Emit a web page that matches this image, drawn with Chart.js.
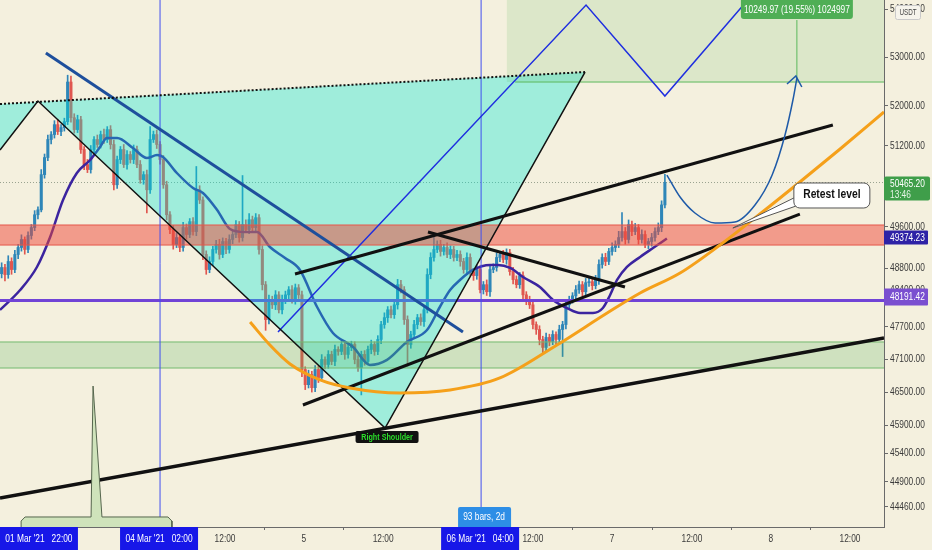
<!DOCTYPE html>
<html>
<head>
<meta charset="utf-8">
<script src="https://cdn.jsdelivr.net/npm/chart.js@4.4.1/dist/chart.umd.min.js"></script>
<style>
  html, body { margin: 0; padding: 0; background: #f4f0de; }
  #wrap { width: 932px; height: 550px; }
</style>
</head>
<body>
<div id="wrap"><canvas id="chart" width="932" height="550"></canvas></div>
<script>
const FONT = "'Liberation Sans', Arial, sans-serif";
const BG = '#f4f0de';
const UP = '#2e86b8', DOWN = '#e0564f';

// 30m candles: first open, closes, wick lengths (price units)
const firstOpen = 48700;
const closes = [
  48818,48683,48933,48779,49067,49201,49355,49163,49432,49585,
  49834,49930,50621,50960,51320,51419,51619,51479,51559,51679,
  52485,51759,51519,51719,51120,50821,50721,51120,51320,51220,
  51419,51320,51519,51220,50421,50920,51120,50821,51020,50920,
  51120,50821,50521,50621,50322,51320,51419,51220,50920,50421,
  49834,49547,49259,49393,49201,49585,49451,49700,49508,50322,
  50122,49067,48779,48933,49163,49259,49067,49316,49163,49355,
  49451,49643,49393,49643,49547,49738,49585,49777,49163,48492,
  47835,48204,48112,48300,48019,48204,48300,48396,48204,48434,
  48300,46912,46635,46820,46580,46912,46764,47096,47004,47189,
  47060,47281,47244,47373,47189,47318,47373,47096,46949,47189,
  47060,47281,47373,47244,47466,47743,47872,48019,47927,48112,
  48492,48396,47835,47373,47558,47743,47872,47798,48019,48684,
  49010,49163,49259,49125,49201,49067,49163,49010,49067,48933,
  48779,49010,48741,48664,48779,48396,48492,48358,48779,48818,
  49010,49067,48971,49105,48741,48588,48492,48664,48300,48204,
  48112,47743,47650,47466,47318,47503,47429,47558,47466,47650,
  47743,48112,48204,48281,48396,48492,48358,48530,48549,48473,
  48588,48876,49010,48933,49125,49201,49259,49393,49508,49355,
  49643,49508,49585,49355,49451,49259,49316,49393,49508,49585,
  50026,50465.2
];
const wickUp = [
  90,60,110,70,80,60,90,50,70,60, 80,60,100,70,90,60,80,110,60,70,
  140,120,80,90,70,60,100,80,60,90, 70,110,60,80,90,70,60,100,80,60,
  90,70,80,60,90,260,70,90,60,80, 70,60,80,90,60,100,70,60,80,460,
  80,60,70,90,60,80,100,70,60,90, 70,80,60,960,90,120,70,80,60,70,
  60,90,70,80,60,90,70,60,80,70, 60,70,50,80,60,70,60,90,50,70,
  60,80,50,70,60,80,60,50,70,60, 70,60,80,50,70,60,90,60,70,80,
  100,80,60,70,60,80,60,70,80,110, 90,250,70,80,60,90,70,60,80,70,
  60,90,70,60,80,70,60,90,80,70, 90,60,80,70,60,80,70,60,70,60,
  70,60,50,70,60,80,60,70,50,80, 60,90,70,60,80,70,60,80,70,60,
  80,90,70,80,60,90,70,120,370,80, 90,70,80,60,90,70,60,80,70,90,
  80,160
];
const wickDn = [
  80,120,70,90,60,80,70,90,60,70, 60,80,40,70,60,90,70,60,80,70,
  60,90,70,60,80,100,60,70,80,60, 70,80,60,90,100,70,80,60,90,70,
  80,60,70,90,450,70,60,80,90,70, 100,80,90,60,80,70,90,60,70,80,
  70,100,90,60,80,70,90,60,80,70, 80,60,90,70,60,80,70,60,90,100,
  200,80,70,90,60,80,70,90,60,80, 70,130,90,60,80,70,90,60,80,70,
  60,80,70,60,90,70,60,80,70,500, 70,60,80,70,60,80,70,90,60,70,
  80,60,90,400,70,60,80,70,90,60, 80,70,60,90,70,60,80,70,60,90,
  70,60,80,90,70,60,80,70,90,60, 70,80,60,90,70,80,60,70,80,90,
  70,80,90,100,100,70,80,60,90,70, 500,80,70,60,90,70,80,60,70,80,
  60,90,70,80,60,70,80,60,70,90, 70,80,60,90,70,60,80,90,70,60,
  80,60
];

// moving average read at bar positions [bar, price]
const maLine = [[-0.5,48015],[5.6,48391],[10.7,48828],[14.7,49404],[18.6,50122],[22.8,50653],[26.8,50911],[29.8,51170],[31.9,51350],[35.0,51350],[39.8,51150],[44.0,50950],[47.1,51009],[48.9,50970],[53.1,50653],[58.0,50357],[61.0,50260],[65.3,49927],[69.2,49558],[73.7,49500],[77.4,49500],[81.3,49210],[85.9,49000],[90.4,48771],[95.6,48071],[100.4,47586],[106.5,47326],[111.6,46995],[116.8,47088],[122.8,47419],[128.9,47641],[132.8,48071],[135.9,48391],[138.9,48581],[142.8,48771],[148.0,48866],[150.4,48866],[154.1,48809],[158.0,48637],[163.1,48448],[167.1,48204],[171.3,48052],[175.3,47958],[179.2,47958],[182.2,48052],[184.4,48297],[186.5,48581],[189.5,48828],[193.5,49019],[197.4,49191],[201.6,49374.23]];

// drawings [bar, price]
const cyanPattern = [[-0.5,52036],[176.8,52690],[116.2,45852],[11.0,52097],[-0.5,51110]];
const dottedTop = [[-0.5,52036],[176.8,52690]];
const patternEdges = [[-0.5,51110],[11.0,52097],[116.2,45852],[176.8,52690]];
const navyTrend = [[13.4,53083],[139.8,47604]];
const blueZigzag = [[83.75,47604],[177.1,54087],[201.0,52199],[227.4,54299]];
const vLines = [48.0, 145.3];
const redZone = [49248, 49635];
const greenZone = [46939, 47419];
const purpleLevel = 48191.42;
const measureRect = [153.1, 52485];
const measureLine = [155.6, 52485];
const measureStem = [241.0, 52485, 53771];
const channelTop = [[88.9,48694],[251.9,51611]];
const channelBottom = [[91.3,46266],[241.9,49848]];
const neckline = [[129.2,49500],[188.9,48448]];
const longSupport = [[-0.5,44617],[267.4,47493]];
const orangeCurve = [[75.3,47790],[81.3,47363],[87.4,47014],[96.5,46722],[105.6,46575],[120.7,46484],[135.9,46538],[151.0,46757],[168.3,47363],[183.5,47958],[193.5,48334],[205.6,48713],[217.7,49248],[229.8,49848],[241.9,50475],[254.1,51130],[267.4,51874]];
const arrowCurve = [[201.6,50613],[205.6,50180],[210.1,49868],[216.2,49674],[222.2,49693],[228.3,50023],[233.5,50613],[237.4,51410],[239.8,52118],[241.0,52567]];
const arrowHead = [[238.0,52444],[240.7,52608],[242.5,52383]];
const balloon = [[5.9,44000],[5.9,44217],[7.1,44287],[27.1,44287],[27.7,46610],[30.4,44287],[50.4,44287],[51.6,44217],[51.6,44000]];

// axes
const yTicks = [54000,53000,52000,51200,50400,49600,48800,48400,47700,47100,46500,45900,45400,44900,44460];
const xTickPos = [67.7, 91.6, 115.6, 161, 185, 209.2, 233.1, 257.1];
const xTickLabels = ['12:00','5','12:00','12:00','7','12:00','8','12:00'];
const xMarkers = [[11.3, "01 Mar '21   22:00"], [47.7, "04 Mar '21   02:00"], [145.0, "06 Mar '21   04:00"]];
const lastPrice = 50465.20, countdown = '13:46', maLast = 49374.23;
const measureText = '10249.97 (19.55%) 1024997';
const retest = { tip: [221.6, 49577], box: [251.6, 50220], text: 'Retest level' };
const shoulder = { at: [116.8, 45692], text: 'Right Shoulder' };
const barsNote = { at: 146.2, text: '93 bars, 2d' };

const opens = closes.map((c, i) => i === 0 ? firstOpen : closes[i - 1]);
const highs = closes.map((c, i) => Math.max(opens[i], c) + wickUp[i]);
const lows = closes.map((c, i) => Math.min(opens[i], c) - wickDn[i]);
const colors = closes.map((c, i) => c >= opens[i] ? UP : DOWN);

const pts = a => a.map(([x, y]) => ({ x, y }));
function line(data, color, width, order, extra) {
  return Object.assign({ type: 'line', data: pts(data), borderColor: color, borderWidth: width,
    pointRadius: 0, fill: false, tension: 0, order }, extra || {});
}
function shape(data, fillColor, order, border, bw) {
  return line(data, border || 'rgba(0,0,0,0)', bw || 1, order, { fill: 'shape', backgroundColor: fillColor });
}
const rect = (x0, x1, y0, y1) => [[x0, y0], [x1, y0], [x1, y1], [x0, y1]];

const datasets = [
  line([[-0.5, lastPrice], [268, lastPrice]], 'rgba(90,110,90,0.6)', 1, 100, { borderDash: [1, 2] }),
  { type: 'bar', data: closes.map((c, i) => ({ x: i, y: [lows[i], highs[i]] })), backgroundColor: colors,
    barThickness: 1, grouped: false, order: 95 },
  { type: 'bar', data: closes.map((c, i) => ({ x: i, y: [opens[i], c] })), backgroundColor: colors,
    barThickness: 2.4, minBarLength: 1, grouped: false, order: 94 },
  line(maLine, '#3b249f', 2.5, 90, { cubicInterpolationMode: 'monotone' }),
  line([[-2, purpleLevel], [270, purpleLevel]], '#7043d6', 3, 88),
  shape(cyanPattern, 'rgba(0,232,215,0.35)', 80),
  shape(rect(-2, 270, redZone[0], redZone[1]), 'rgba(240,70,55,0.5)', 78, '#e5574a', 1),
  shape(rect(-2, 270, greenZone[0], greenZone[1]), 'rgba(76,175,80,0.22)', 78, '#74b96f', 1),
  shape(rect(measureRect[0], 270, measureRect[1], 60000), 'rgba(76,175,80,0.14)', 75),
  line([[measureLine[0], measureLine[1]], [270, measureLine[1]]], '#5cb85c', 1, 74),
  line([[measureStem[0], measureStem[1]], [measureStem[0], measureStem[2]]], '#5cb85c', 1, 74),
  ...vLines.map(v => line([[v, 43000], [v, 56000]], '#4050f0', 1, 70)),
  line(navyTrend, '#1e4f9c', 3, 60),
  line(blueZigzag, '#1f2fe0', 1.5, 60),
  line(dottedTop, '#111', 2, 50, { borderDash: [2, 2] }),
  line(patternEdges, '#111', 1.5, 50),
  line(channelTop, '#111', 3, 50),
  line(channelBottom, '#111', 3, 50),
  line(neckline, '#111', 3, 50),
  line(longSupport, '#111', 3.5, 50),
  line(orangeCurve, '#f5a01a', 3, 45, { cubicInterpolationMode: 'monotone' }),
  line(arrowCurve, '#1e5aa8', 1.5, 40, { cubicInterpolationMode: 'monotone' }),
  line(arrowHead, '#1e5aa8', 1.5, 40),
  shape(balloon, '#cfe3bb', 30, '#56664e', 1)
];

function rbox(ctx, x, y, w, h, r, fill, stroke) {
  ctx.beginPath();
  ctx.roundRect(x, y, w, h, r);
  ctx.fillStyle = fill; ctx.fill();
  if (stroke) { ctx.strokeStyle = stroke; ctx.lineWidth = 1; ctx.stroke(); }
}
// condensed text (the screenshot fonts are narrow)
function text(ctx, s, x, y, color, size, weight, align, sx) {
  ctx.save();
  ctx.translate(x, y);
  ctx.scale(sx || 0.76, 1);
  ctx.font = (weight || 'normal') + ' ' + size + 'px ' + FONT;
  ctx.fillStyle = color; ctx.textAlign = align || 'center'; ctx.textBaseline = 'middle';
  ctx.fillText(s, 0, 0);
  ctx.restore();
}

const overlay = {
  id: 'overlay',
  beforeDraw(chart) {
    const { ctx, width, height } = chart;
    ctx.save(); ctx.fillStyle = BG; ctx.fillRect(0, 0, width, height); ctx.restore();
  },
  afterDraw(chart) {
    const { ctx, chartArea: a, scales: { x, y } } = chart;
    const X = v => x.getPixelForValue(v), Y = v => y.getPixelForValue(v);
    ctx.save();
    // tick labels
    y.ticks.forEach(t => text(ctx, t.value.toFixed(2), a.right + 6, Y(t.value), '#3a3a3a', 11, 'normal', 'left'));
    x.ticks.forEach((t, i) => text(ctx, xTickLabels[i], X(t.value), a.bottom + 11.5, '#3a3a3a', 11));
    // right axis price labels
    let py = Y(lastPrice);
    rbox(ctx, a.right, py - 6, 46, 24, 2, '#3f9e4a');
    text(ctx, lastPrice.toFixed(2), a.right + 6, py + 1, '#fff', 11, 'normal', 'left');
    text(ctx, countdown, a.right + 6, py + 12, '#e4f3e4', 11, 'normal', 'left');
    py = Y(maLast);
    rbox(ctx, a.right, py - 8, 44, 14, 1, '#2e22a6');
    text(ctx, maLast.toFixed(2), a.right + 6, py - 1, '#fff', 11, 'normal', 'left');
    py = Y(purpleLevel);
    rbox(ctx, a.right, py - 12, 44, 17, 1, '#7a4fd0');
    text(ctx, purpleLevel.toFixed(2), a.right + 6, py - 3.5, '#fff', 11, 'normal', 'left');
    // USDT
    rbox(ctx, 895.5, 5.5, 25, 14, 2, '#f6f4ec', '#c9c9c9');
    text(ctx, 'USDT', 908, 13, '#444', 9, 'normal', 'center', 0.7);
    // time markers
    xMarkers.forEach(([v, s]) => {
      const cx = X(v);
      ctx.fillStyle = '#1717e8'; ctx.fillRect(cx - 39, a.bottom, 78, 23);
      text(ctx, s, cx, a.bottom + 11.5, '#fff', 11);
    });
    const bx = X(barsNote.at);
    rbox(ctx, bx - 26, a.bottom - 20, 53, 20, [2, 2, 0, 0], '#2d8ee6');
    text(ctx, barsNote.text, bx, a.bottom - 10, '#fff', 11);
    // measure label
    const mx = X(measureStem[0]);
    rbox(ctx, mx - 56, -4, 112, 23, 3, '#4fae55');
    text(ctx, measureText, mx, 9.5, '#fff', 11);
    // retest callout
    const tx = X(retest.tip[0]), ty = Y(retest.tip[1]);
    const cx = X(retest.box[0]), cy = Y(retest.box[1]);
    ctx.beginPath();
    ctx.moveTo(tx, ty); ctx.lineTo(cx - 34, cy + 1); ctx.lineTo(cx - 30, cy + 9); ctx.closePath();
    ctx.fillStyle = '#fff'; ctx.fill(); ctx.strokeStyle = '#555'; ctx.lineWidth = 1; ctx.stroke();
    rbox(ctx, cx - 38, cy - 12, 76, 25, 6, '#fff', '#555');
    text(ctx, retest.text, cx, cy, '#111', 12, 'bold', 'center', 0.86);
    // right shoulder
    const sx = X(shoulder.at[0]), sy = Y(shoulder.at[1]);
    rbox(ctx, sx - 31.5, sy - 6, 63, 12, 2, '#111');
    text(ctx, shoulder.text, sx, sy, '#2bdc2b', 9.5, 'bold', 'center', 0.76);
    ctx.restore();
  }
};

new Chart(document.getElementById('chart'), {
  data: { datasets },
  options: {
    responsive: false,
    animation: false,
    events: [],
    layout: { padding: 0 },
    plugins: { legend: { display: false }, tooltip: { enabled: false } },
    scales: {
      x: {
        type: 'linear', min: -0.5, max: 267.4, offset: false, bounds: 'data', position: 'bottom',
        afterBuildTicks: s => { s.ticks = xTickPos.map(v => ({ value: v })); },
        afterFit: s => { s.height = 23; s.paddingLeft = 0; s.paddingRight = 0; },
        ticks: { display: false, autoSkip: false, maxRotation: 0 },
        grid: { drawOnChartArea: false, tickLength: 3, color: '#6a6a6a' },
        border: { color: '#6a6a6a' }
      },
      y: {
        type: 'logarithmic', position: 'right', min: 44114, max: 54193, bounds: 'data',
        afterBuildTicks: s => { s.ticks = yTicks.map(v => ({ value: v })); },
        afterFit: s => { s.width = 48; s.paddingTop = 0; s.paddingBottom = 0; },
        ticks: { display: false, autoSkip: false },
        grid: { drawOnChartArea: false, tickLength: 4, color: '#6a6a6a' },
        border: { color: '#6a6a6a' }
      }
    }
  },
  plugins: [overlay]
});
</script>
</body>
</html>
